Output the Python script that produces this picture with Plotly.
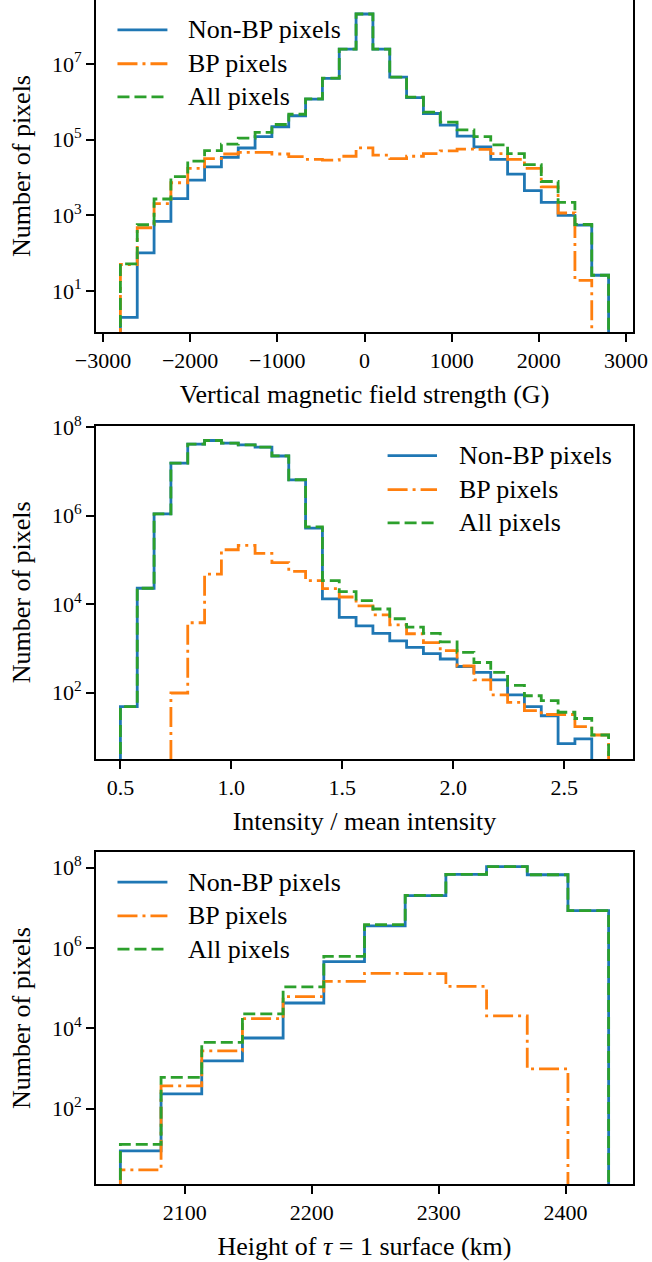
import numpy as np
import plotly.graph_objects as go

# ---------------- data ----------------
# Panel 1: vertical magnetic field strength (G), 29 bins from -2800 to 2800
bz_lo, bz_hi, bz_nbins = -2800, 2800, 29
bz_nonbp = [2, 102, 690, 2750, 8500, 19000, 34000, 60000, 120000, 219000, 427000,
            1175000, 4170000, 24500000, 209000000, 24500000, 4470000, 1290000, 490000,
            240000, 123000, 64600, 30200, 12300, 4470, 2190, 1000, 550, 26]
bz_bp = [50, 468, 2040, 7240, 17400, 31600, 41700, 45700, 45700, 41700, 35500, 30200,
         28800, 36300, 60300, 38900, 31600, 36300, 42700, 50100, 56200, 55000, 42700,
         30200, 17400, 5620, 1150, 19, None]
bz_all = [52, 562, 2690, 10500, 26900, 51300, 75900, 110000, 155000, 251000, 468000,
          1190000, 4220000, 24500000, 209000000, 24500000, 4500000, 1330000, 530000,
          290000, 180000, 120000, 73000, 42500, 21900, 7800, 2200, 570, 26]
bz_ticks = [-3000, -2000, -1000, 0, 1000, 2000, 3000]
bz_ticktext = ["\u22123000", "\u22122000", "\u22121000", "0", "1000", "2000", "3000"]

# Panel 2: intensity / mean intensity, 29 bins from 0.5 to 2.7
int_lo, int_hi, int_nbins = 0.5, 2.7, 29
int_nonbp = [48, 22900, 1100000, 15500000, 41700000, 50100000, 43700000, 39800000,
             35500000, 22400000, 6460000, 525000, 13200, 5010, 3240, 2190, 1480, 1050,
             760, 575, 389, 288, 195, 89, 48, 30, 7, 9, None]
int_bp = [None, None, None, 98, 3800, 47900, 170000, 214000, 141000, 87000, 55000,
          33900, 22400, 14500, 9100, 5750, 3390, 2140, 1350, 890, 400, 195, 89, 60,
          39, 32, 32, 17, 11]
int_all = [48, 22900, 1100000, 15500000, 41700000, 50100000, 43900000, 40000000,
           35600000, 22500000, 6500000, 559000, 33900, 19100, 12000, 7760, 4680, 3020,
           2190, 1410, 813, 479, 288, 145, 85, 66, 36, 26, 11]
int_ticks = [0.5, 1.0, 1.5, 2.0, 2.5]

# Panel 3: height of tau = 1 surface (km), 12 bins
h_lo, h_hi, h_nbins = 2049.2, 2433.9, 12
h_nonbp = [9, 234, 1550, 5750, 42700, 457000, 3550000, 20000000, 67600000,
           105000000, 66100000, 8510000]
h_bp = [3, 372, 2750, 17400, 61700, 148000, 234000, 229000, 110000, 20400, 977, None]
h_all = [13, 603, 4470, 22900, 107000, 617000, 3800000, 20200000, 67700000,
         105000000, 66100000, 8510000]
h_ticks = [2100, 2200, 2300, 2400]

series_names = ["Non-BP pixels", "BP pixels", "All pixels"]
colors = ["#1f77b4", "#ff7f0e", "#2ca02c"]
dashes = ["solid", "20px,5px,3px,5px", "12px,5px"]

# ---------------- helpers ----------------
FLOOR = 1e-4


def step_xy(edges, counts):
    idx = [i for i, c in enumerate(counts) if c]
    i0, i1 = idx[0], idx[-1]
    xs = [edges[i0]] + [edges[i] for i in range(i0, i1 + 1)] + [edges[i1 + 1], edges[i1 + 1]]
    ys = [FLOOR] + [counts[i] for i in range(i0, i1 + 1)] + [counts[i1], FLOOR]
    return xs, ys


FONT = "Liberation Serif"
fig = go.Figure()

panels = [
    (np.linspace(bz_lo, bz_hi, bz_nbins + 1), [bz_nonbp, bz_bp, bz_all], "x", "y"),
    (np.linspace(int_lo, int_hi, int_nbins + 1), [int_nonbp, int_bp, int_all], "x2", "y2"),
    (np.linspace(h_lo, h_hi, h_nbins + 1), [h_nonbp, h_bp, h_all], "x3", "y3"),
]

for edges, sers, xa, ya in panels:
    for name, counts, col, dash in zip(series_names, sers, colors, dashes):
        xs, ys = step_xy(list(edges), counts)
        fig.add_trace(go.Scatter(
            x=xs, y=ys, mode="lines", line_shape="hv", name=name,
            line=dict(color=col, width=2.8, dash=dash),
            xaxis=xa, yaxis=ya, showlegend=False, hoverinfo="skip"))

# ---------------- axes ----------------
W, H = 652, 1262
ML, MR, MT, MB = 96, 19, 0, 78

common_ax = dict(showline=True, linecolor="black", linewidth=2, mirror=True,
                 ticks="outside", ticklen=8, tickwidth=2, tickcolor="black",
                 showgrid=False, zeroline=False, automargin=False,
                 tickfont=dict(family=FONT, size=22, color="black"))

ttl_font = dict(family=FONT, size=26, color="black")

layout = dict(
    width=W, height=H, margin=dict(l=ML, r=MR, t=MT, b=MB, autoexpand=False),
    paper_bgcolor="white", plot_bgcolor="white", showlegend=False,
    font=dict(family=FONT, color="black"),
)

doms = [(0.7196, 1.0), (0.3590, 0.6405), (0.0, 0.2802)]
yranges = [(-0.085, 8.69), (0.50, 8.036), (0.128, 8.38)]
ytickvals = [[1e1, 1e3, 1e5, 1e7], [1e2, 1e4, 1e6, 1e8], [1e2, 1e4, 1e6, 1e8]]
yticktext = [["10<sup>1</sup>", "10<sup>3</sup>", "10<sup>5</sup>", "10<sup>7</sup>"],
             ["10<sup>2</sup>", "10<sup>4</sup>", "10<sup>6</sup>", "10<sup>8</sup>"],
             ["10<sup>2</sup>", "10<sup>4</sup>", "10<sup>6</sup>", "10<sup>8</sup>"]]
xtitles = ["Vertical magnetic field strength (G)", "Intensity / mean intensity",
           "Height of <i>τ</i> = 1 surface (km)"]
xranges = [(-3080, 3080), (0.39, 2.81), (2030.0, 2453.1)]
xtickvals = [bz_ticks, int_ticks, h_ticks]
xticktext = [bz_ticktext, ["%.1f" % v for v in int_ticks], [str(v) for v in h_ticks]]

for i in range(3):
    sfx = "" if i == 0 else str(i + 1)
    layout["xaxis" + sfx] = dict(
        common_ax, domain=[0, 1], anchor="y" + sfx, range=list(xranges[i]),
        tickvals=xtickvals[i], ticktext=xticktext[i],
        title=dict(text=xtitles[i], font=ttl_font, standoff=12))
    layout["yaxis" + sfx] = dict(
        common_ax, domain=list(doms[i]), anchor="x" + sfx, type="log",
        range=list(yranges[i]), tickvals=ytickvals[i], ticktext=yticktext[i],
        title=dict(text="Number of pixels", font=ttl_font, standoff=14))

fig.update_layout(**layout)

# ---------------- legends (drawn per panel) ----------------
leg_rows = [0.910, 0.808, 0.708]
leg_x = [(0.040, 0.133, 0.168), (0.543, 0.635, 0.672), (0.040, 0.133, 0.168)]
for i in range(3):
    sfx = "" if i == 0 else str(i + 1)
    x0, x1, xt = leg_x[i]
    for name, col, dash, yy in zip(series_names, colors, dashes, leg_rows):
        fig.add_shape(type="line", xref="x%s domain" % sfx, yref="y%s domain" % sfx,
                      x0=x0, x1=x1, y0=yy, y1=yy,
                      line=dict(color=col, width=2.8, dash=dash))
        fig.add_annotation(xref="x%s domain" % sfx, yref="y%s domain" % sfx,
                           x=xt, y=yy, text=name, showarrow=False,
                           xanchor="left", yanchor="middle",
                           font=dict(family=FONT, size=26, color="black"))

fig.write_html("out.html")
